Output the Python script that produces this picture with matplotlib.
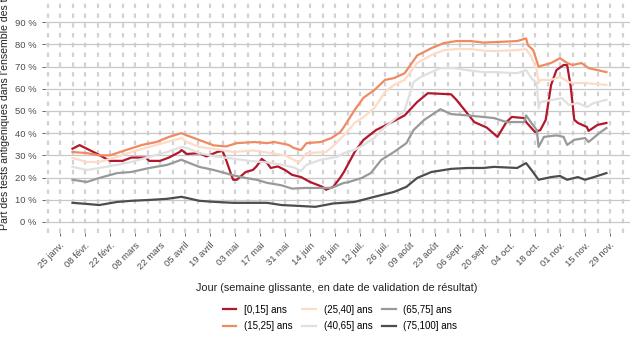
"""Part des tests antigéniques par classe d'âge (semaine glissante)"""
import matplotlib.pyplot as plt
import numpy as np
import pandas as pd

year = "2021"

# [0,15] ans
d_0_15 = ["02-01", "02-05", "02-09", "02-14", "02-22", "03-01", "03-06", "03-14", "03-16",
          "03-22", "03-27", "04-02", "04-03", "04-06", "04-13", "04-17", "04-23", "04-26",
          "04-28", "05-01", "05-02", "05-04", "05-09", "05-13", "05-15", "05-18", "05-21",
          "05-23", "05-27", "05-31", "06-04", "06-09", "06-14", "06-21", "06-23", "06-27",
          "07-01", "07-03", "07-09", "07-14", "07-21", "07-30", "08-06", "08-13", "08-19",
          "09-01", "09-04", "09-09", "09-14", "09-21", "09-27", "10-02", "10-05", "10-12",
          "10-13", "10-18", "10-21", "10-24", "10-27", "10-30", "11-03", "11-05", "11-07",
          "11-09", "11-11", "11-16", "11-17", "11-22", "11-27"]
v_0_15 = [33, 34.6, 33, 31, 27.5, 27.5, 29, 29, 27.5,
          27.5, 29, 31.5, 32.4, 30.6, 31, 29.5, 31.5, 32,
          28, 21, 19, 19, 22.5, 23.4, 25, 28.4, 26.5,
          24.3, 25, 23.4, 21.2, 20.2, 18, 15.8, 14.5, 15.8,
          20, 22.5, 31.5, 37, 41.4, 45, 48, 54, 58,
          57.5, 55, 50, 45, 42.5, 38.3, 45, 47.3, 46.8,
          45, 40.5, 41.4, 46, 61.7, 68.4, 70.7, 70.7, 61,
          46, 44.6, 42.8, 41, 43.7, 44.6]

# (15,25] ans
d_15_25 = ["02-01", "02-09", "02-16", "02-22", "03-03", "03-12", "03-20", "03-27", "04-03",
           "04-06", "04-10", "04-21", "04-28", "05-04", "05-14", "05-21", "05-25", "06-02",
           "06-05", "06-09", "06-12", "06-20", "06-26", "07-01", "07-03", "07-09", "07-14",
           "07-20", "07-26", "07-31", "08-06", "08-13", "08-21", "08-28", "09-04", "09-12",
           "09-19", "09-25", "10-08", "10-13", "10-14", "10-17", "10-20", "10-27", "11-01",
           "11-05", "11-08", "11-13", "11-17", "11-27"]
v_15_25 = [31.5, 31, 30, 30, 32.4, 34.7, 36, 38.3, 40,
           39, 37.8, 34.5, 34, 35.5, 36, 35.5, 36, 34.7,
           33.3, 32.4, 35.5, 36, 37.8, 40.5, 42.8, 50.4, 56,
           59.4, 64, 64.8, 67, 75, 78.3, 80.6, 81.5, 81.5,
           80.8, 81, 81.5, 82.7, 79.7, 77.4, 70, 71.6, 73.8,
           71.6, 70.7, 71.6, 69.3, 67.5]

# (25,40] ans
d_25_40 = ["02-01", "02-09", "02-16", "02-26", "03-06", "03-16", "03-26", "04-03", "04-06",
           "04-13", "04-22", "05-02", "05-13", "05-21", "05-31", "06-06", "06-08", "06-12",
           "06-23", "06-27", "07-03", "07-09", "07-14", "07-20", "07-26", "07-31", "08-06",
           "08-13", "08-21", "08-28", "09-04", "09-12", "09-19", "09-25", "10-08", "10-13",
           "10-16", "10-19", "10-20", "10-21", "10-27", "11-01", "11-06", "11-09", "11-15",
           "11-27"]
v_25_40 = [28.8, 27, 27, 29.3, 31.5, 33.8, 36, 37.8, 36,
           33.8, 32.8, 31.5, 32.2, 31.3, 30, 27.5, 26.8, 31,
           31.5, 34.2, 39, 44.6, 47.3, 51.3, 58.5, 61.7, 64,
           71.6, 75.2, 77.4, 77.9, 77.9, 77.2, 77, 77.4, 77.9,
           74.3, 68.4, 62.6, 64, 64, 65.3, 63, 62.6, 62.6,
           61.7]

# (40,65] ans
d_40_65 = ["02-01", "02-09", "02-16", "02-26", "03-06", "03-16", "03-26", "04-03", "04-06",
           "04-13", "04-22", "05-02", "05-11", "05-21", "05-29", "06-05", "06-09", "06-12",
           "06-20", "06-29", "07-03", "07-09", "07-14", "07-20", "07-24", "07-31", "08-06",
           "08-11", "08-15", "08-21", "08-26", "09-02", "09-10", "09-19", "09-25", "10-08",
           "10-13", "10-16", "10-19", "10-20", "10-21", "10-28", "11-02", "11-06", "11-11",
           "11-16", "11-20", "11-27"]
v_40_65 = [24.8, 23.4, 24.3, 25.7, 27, 29.3, 31.5, 33.8, 33.3,
           31, 29.5, 28.5, 27.5, 26.8, 25.8, 24.5, 23, 25.7,
           28, 29.3, 31, 32.4, 34.7, 37.8, 41.4, 46, 50.4,
           63, 65.3, 67.5, 69.3, 69.3, 68.4, 67.5, 67.5, 67,
           68.4, 64.8, 62.6, 51.3, 54, 55, 55.8, 52.7, 53.6,
           51.8, 53.6, 55]

# (65,75] ans
d_65_75 = ["02-01", "02-09", "02-16", "02-26", "03-06", "03-16", "03-26", "04-03", "04-06",
           "04-13", "04-21", "05-02", "05-09", "05-15", "05-21", "05-29", "06-04", "06-11",
           "06-20", "06-26", "07-03", "07-05", "07-13", "07-18", "07-24", "07-31", "08-07",
           "08-11", "08-17", "08-26", "09-01", "09-10", "09-19", "09-25", "10-02", "10-12",
           "10-13", "10-16", "10-19", "10-20", "10-23", "10-30", "11-03", "11-05", "11-09",
           "11-15", "11-17", "11-23", "11-27"]
v_65_75 = [19, 18, 19.8, 22, 22.5, 24.3, 25.7, 28, 27,
           24.8, 23.4, 21, 19.8, 19, 17.6, 16.5, 15, 15.3,
           15.3, 15.3, 17.6, 17.8, 19.8, 22, 28, 31.5, 35.5,
           41.4, 46, 50.8, 48.6, 48, 47.3, 46.8, 45, 45,
           48, 44.6, 41.4, 33.8, 38.3, 39, 38.3, 34.7, 37,
           37.8, 36, 40, 42.3]

# (75,100] ans
d_75_100 = ["02-01", "02-09", "02-16", "02-26", "03-06", "03-16", "03-26", "04-03", "04-06",
            "04-13", "04-22", "05-02", "05-13", "05-21", "05-29", "06-08", "06-17", "06-27",
            "07-09", "07-20", "07-31", "08-07", "08-13", "08-21", "09-01", "09-10", "09-19",
            "09-25", "10-08", "10-13", "10-16", "10-20", "10-27", "11-01", "11-05", "11-11",
            "11-15", "11-20", "11-27"]
v_75_100 = [8.6, 8.1, 7.6, 9, 9.5, 9.9, 10.4, 11.3, 10.8,
            9.5, 9, 8.6, 8.6, 8.6, 7.6, 7.2, 6.8, 8.3,
            9, 11.3, 13.5, 15.8, 19.8, 22.5, 23.9, 24.3, 24.3,
            24.8, 24.3, 26.5, 23.4, 19, 20.2, 20.7, 19, 20.2,
            19, 20.2, 22]

labels = ["[0,15] ans", "(15,25] ans", "(25,40] ans", "(40,65] ans", "(65,75] ans", "(75,100] ans"]
colors = ["#b2182b", "#ef8a62", "#fddbc7", "#e0e0e0", "#999999", "#4d4d4d"]

tick_labels = ["25 janv.", "08 févr.", "22 févr.", "08 mars", "22 mars", "05 avril",
               "19 avril", "03 mai", "17 mai", "31 mai", "14 juin", "28 juin", "12 juil.",
               "26 juil.", "09 août", "23 août", "06 sept.", "20 sept.", "04 oct.",
               "18 oct.", "01 nov.", "15 nov.", "29 nov."]

plt.rcParams['font.family'] = ['Liberation Sans', 'DejaVu Sans']

fig = plt.figure(figsize=(6.35, 3.53), dpi=100)
ax = fig.add_axes([45 / 635, 120 / 353, 585 / 635, 233 / 353])

series = [(d_0_15, v_0_15), (d_15_25, v_15_25), (d_25_40, v_25_40),
          (d_40_65, v_40_65), (d_65_75, v_65_75), (d_75_100, v_75_100)]
for (dates, vals), lab, col in zip(series, labels, colors):
    x = pd.to_datetime([year + "-" + d for d in dates])
    ax.plot(x, vals, color=col, lw=1.6, label=lab, solid_joinstyle='round')

start = pd.Timestamp(year + "-01-25")
ax.set_xlim(start - pd.Timedelta(days=8.4), start + pd.Timedelta(days=319.2))
ax.set_ylim(-5, 100)

# weekly dashed vertical grid
for d in pd.date_range(start - pd.Timedelta(days=7), start + pd.Timedelta(days=315), freq="7D"):
    ax.axvline(d, color="#d2d2d2", lw=1.6, ls=(0, (2.0, 2.4)), zorder=0)

ax.set_yticks(np.arange(0, 100, 10))
ax.set_yticklabels([f"{v} %" for v in range(0, 100, 10)])
ax.yaxis.grid(True, color="#c8c8c8", lw=0.9)
ax.set_axisbelow(True)

ticks = pd.date_range(start, periods=len(tick_labels), freq="14D")
ax.set_xticks(ticks)
ax.set_xticklabels(tick_labels, rotation=45, ha="right", rotation_mode="anchor")

for s in ax.spines.values():
    s.set_visible(False)
ax.tick_params(axis="both", colors="#4d4d4d", labelsize=6.8, length=2.5, width=0.6)
ax.tick_params(axis="x", pad=3)

ax.set_ylabel("Part des tests antigéniques dans l'ensemble des tests",
              fontsize=7.6, color="#222222")
ax.yaxis.set_label_coords(-0.06, 0.55)
fig.text(337 / 635, 1 - 288 / 353, "Jour (semaine glissante, en date de validation de résultat)",
         ha="center", va="center", fontsize=7.8, color="#222222")

fig.legend(loc="center", bbox_to_anchor=(340 / 635, 1 - 318 / 353), ncol=3, frameon=False,
           fontsize=7.0, handlelength=1.4, handletextpad=0.8, columnspacing=1.0,
           labelspacing=0.7, borderpad=0)

fig.savefig("out.png", dpi=100)
